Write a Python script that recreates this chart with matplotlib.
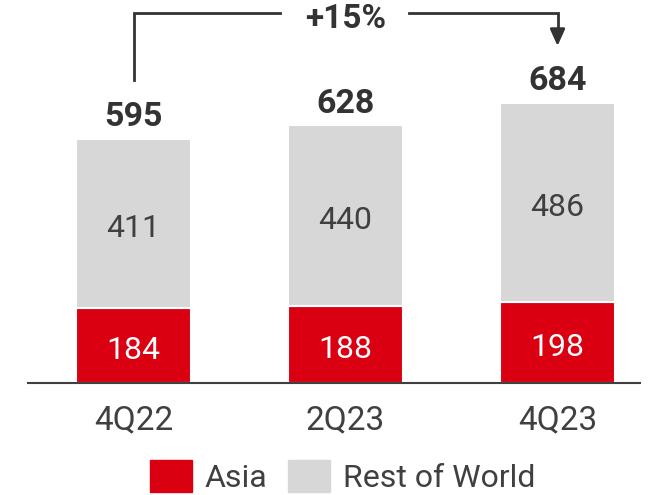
import matplotlib
matplotlib.use("Agg")
import matplotlib.pyplot as plt
from matplotlib.patches import Patch

# data
quarters = ["4Q22", "2Q23", "4Q23"]
asia = [184, 188, 198]
rest_of_world = [411, 440, 486]
totals = [595, 628, 684]
growth_label = "+15%"

RED = "#DB0011"
GREY = "#D7D7D7"
DARK = "#333333"
TXT = "#404040"

plt.rcParams["font.family"] = ["Roboto", "DejaVu Sans"]

fig = plt.figure(figsize=(6.7, 4.95), dpi=100)
ax = fig.add_axes([28 / 670, 112 / 495, 612 / 670, 383 / 495])

x = list(range(len(quarters)))
w = 0.54
ax.bar(x, asia, width=w, color=RED, edgecolor="white", linewidth=1.5)
ax.bar(x, rest_of_world, width=w, bottom=asia, color=GREY, edgecolor="white", linewidth=1.5)

ax.set_xlim(-0.498, 2.389)
ax.set_ylim(0, 934)

for i in x:
    ax.annotate(str(asia[i]), (i, asia[i] / 2), xytext=(0, -3.5), textcoords="offset points",
                ha="center", va="center", color="white", fontsize=23)
    ax.annotate(str(rest_of_world[i]), (i, asia[i] + rest_of_world[i] / 2), xytext=(0, -3.5),
                textcoords="offset points", ha="center", va="center", color=TXT, fontsize=23)
    ax.annotate(str(totals[i]), (i, totals[i]), xytext=(0, 4), textcoords="offset points",
                ha="center", va="bottom", color=DARK, fontsize=24.5, fontweight="bold")

# growth bracket
top = 902
ax.plot([0, 0, 0.69], [totals[0] + 145, top, top], color=DARK, lw=2, solid_joinstyle="miter")
ax.plot([1.3, 2, 2], [top, top, totals[2] + 175], color=DARK, lw=2, solid_joinstyle="miter")
ax.annotate("", xy=(2, totals[2] + 138), xytext=(2, totals[2] + 180),
            arrowprops=dict(arrowstyle="-|>,head_length=1.0,head_width=0.45", color=DARK, lw=2,
                            shrinkA=0, shrinkB=0))
ax.text(1, 866, growth_label, ha="center", va="baseline", color=DARK, fontsize=24, fontweight="bold")

for s in ["top", "right", "left"]:
    ax.spines[s].set_visible(False)
ax.spines["bottom"].set_color(TXT)
ax.spines["bottom"].set_linewidth(1.5)
ax.set_yticks([])
ax.set_xticks(x)
ax.set_xticklabels(quarters, fontsize=24, color=TXT)
ax.tick_params(axis="x", length=0, pad=15)

handles = [Patch(color=RED, label="Asia"), Patch(color=GREY, label="Rest of World")]
leg = fig.legend(handles=handles, loc="upper left", bbox_to_anchor=(150 / 670, 1 - 460 / 495),
                 ncol=2, frameon=False, fontsize=23, handlelength=1.3, handleheight=1.15,
                 handletextpad=0.42, columnspacing=0.65, borderpad=0, borderaxespad=0)
for t in leg.get_texts():
    t.set_color(TXT)

fig.savefig("out.png", dpi=100)
